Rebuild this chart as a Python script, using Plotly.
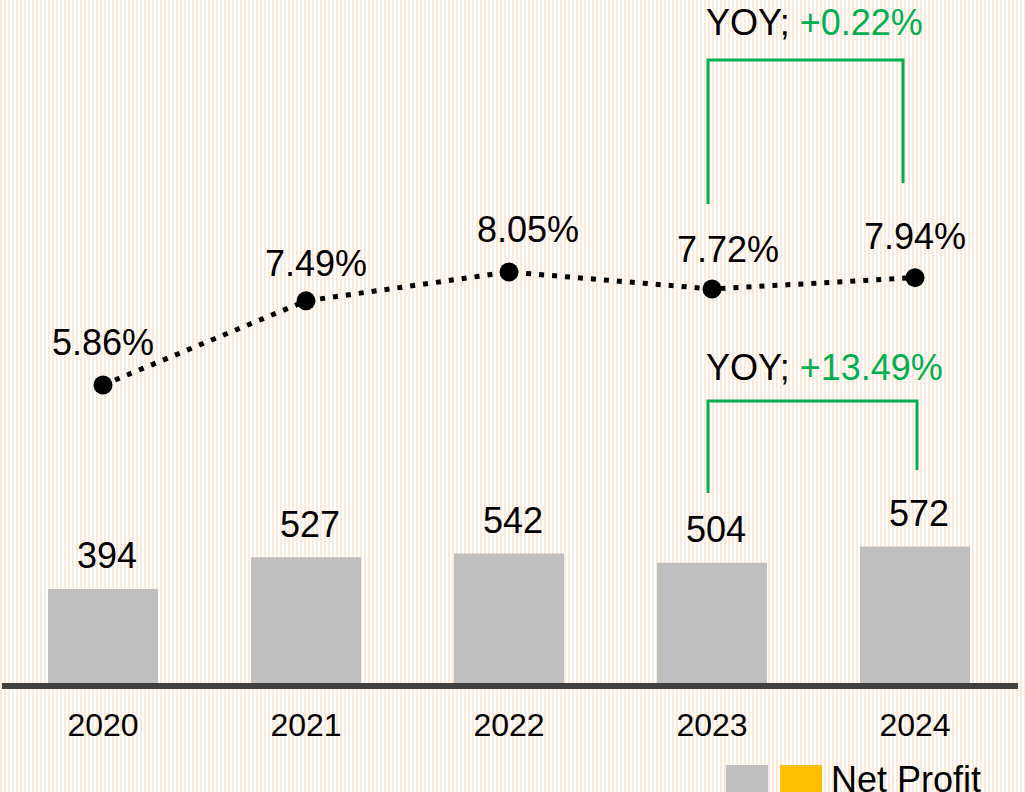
import base64

import plotly.graph_objects as go

years = ["2020", "2021", "2022", "2023", "2024"]
net_profit = [394, 527, 542, 504, 572]
net_margin_pct = [5.86, 7.49, 8.05, 7.72, 7.94]
margin_yoy = "+0.22%"
profit_yoy = "+13.49%"
legend_label = "Net Profit"

W, H = 1025, 792
FONT = "Liberation Sans, Arial, sans-serif"
GREEN = "#00B050"
BAR_GRAY = "#BFBFBF"
GOLD = "#FFC000"
STRIPE = "#FDE9DA"


def px_x(p):
    return p / W


def px_y(p):
    return 1 - p / H


# thin vertical pinstripes for the page background
stripes_svg = (
    f"<svg xmlns='http://www.w3.org/2000/svg' width='{W}' height='{H}'>"
    "<defs><pattern id='p' width='4' height='4' patternUnits='userSpaceOnUse'>"
    "<rect width='4' height='4' fill='white'/>"
    f"<rect width='2' height='4' fill='{STRIPE}'/></pattern></defs>"
    f"<rect width='{W}' height='{H}' fill='url(#p)'/></svg>"
)
stripes_uri = "data:image/svg+xml;base64," + base64.b64encode(stripes_svg.encode()).decode()

fig = go.Figure()

fig.add_trace(go.Bar(
    x=years, y=net_profit, width=0.542,
    marker=dict(color=BAR_GRAY, line=dict(width=0)),
    name=legend_label, showlegend=False,
))

fig.add_trace(go.Scatter(
    x=years, y=net_margin_pct, yaxis="y2", mode="lines+markers",
    line=dict(color="black", width=5, dash="5px,8px"),
    marker=dict(color="black", size=19),
    showlegend=False,
))

# value labels (x given as category index)
for i, v in enumerate(net_profit):
    fig.add_annotation(x=i, y=v, xref="x", yref="y", text=str(v), showarrow=False,
                       yanchor="middle", yshift=33, xshift=4,
                       font=dict(size=36, color="black", family=FONT))

label_xshift = [0, 10, 19, 16, 0]
label_yshift = [42, 37, 42, 39, 41]
for i, v in enumerate(net_margin_pct):
    fig.add_annotation(x=i, y=v, xref="x", yref="y2", text=f"{v:.2f}%", showarrow=False,
                       yanchor="middle", yshift=label_yshift[i], xshift=label_xshift[i],
                       font=dict(size=36, color="black", family=FONT))

# YOY brackets
brackets = [
    (708, 204, 60, 903, 183, margin_yoy, 22),
    (708, 493, 401, 917, 470, profit_yoy, 367),
]
for xl, yl, ytop, xr, yr_, txt, ty in brackets:
    fig.add_shape(type="path", xref="paper", yref="paper",
                  path=f"M {px_x(xl)} {px_y(yl)} L {px_x(xl)} {px_y(ytop)} "
                       f"L {px_x(xr)} {px_y(ytop)} L {px_x(xr)} {px_y(yr_)}",
                  line=dict(color=GREEN, width=3))
    fig.add_annotation(x=px_x(704), y=px_y(ty), xref="paper", yref="paper",
                       text=f"YOY; <span style='color:{GREEN}'>{txt}</span>",
                       showarrow=False, xanchor="left", yanchor="middle",
                       font=dict(size=36, color="black", family=FONT))

# legend
fig.add_shape(type="rect", xref="paper", yref="paper", x0=px_x(726), x1=px_x(768),
              y0=px_y(800), y1=px_y(765), fillcolor=BAR_GRAY, line=dict(width=0))
fig.add_shape(type="rect", xref="paper", yref="paper", x0=px_x(780), x1=px_x(822),
              y0=px_y(800), y1=px_y(765), fillcolor=GOLD, line=dict(width=0))
fig.add_annotation(x=px_x(829), y=px_y(779), xref="paper", yref="paper", text=legend_label,
                   showarrow=False, xanchor="left", yanchor="middle",
                   font=dict(size=36, color="black", family=FONT))

fig.update_layout(
    width=W, height=H,
    margin=dict(l=0, r=0, t=0, b=0),
    paper_bgcolor="white",
    plot_bgcolor="rgba(0,0,0,0)",
    font=dict(family=FONT, color="black"),
    images=[dict(source=stripes_uri, xref="paper", yref="paper", x=0, y=1,
                 sizex=1, sizey=1, sizing="stretch", xanchor="left", yanchor="top",
                 layer="below")],
    xaxis=dict(domain=[2 / W, 1018 / W], type="category",
               range=[-0.4975, 4.5074], showline=True, linewidth=6, linecolor="#404040",
               showgrid=False, zeroline=False, ticks="", ticklabelstandoff=9,
               tickfont=dict(size=32, color="black", family=FONT)),
    yaxis=dict(domain=[1 - 683 / H, 1], range=[0, 2860], showticklabels=False,
               showline=False, showgrid=False, zeroline=False),
    yaxis2=dict(overlaying="y", range=[0.085, 13.32], showticklabels=False,
                showline=False, showgrid=False, zeroline=False),
)

fig.write_html("out.html", config={"displayModeBar": False},
               post_script="document.body.style.margin = '0';")
